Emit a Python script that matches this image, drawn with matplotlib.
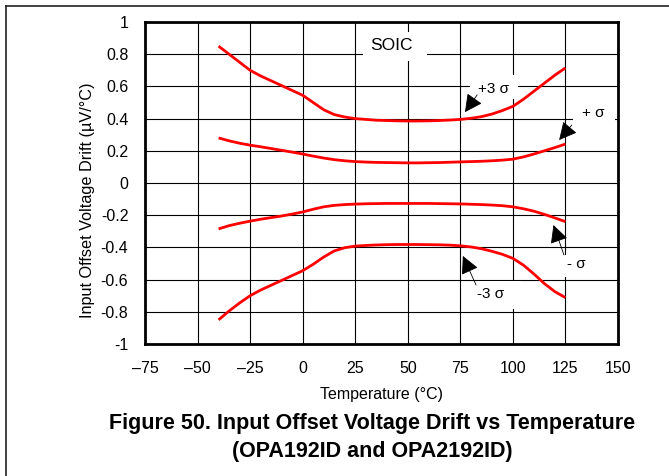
import matplotlib
matplotlib.use("Agg")
import matplotlib.pyplot as plt
from matplotlib.patches import Rectangle
from matplotlib.lines import Line2D

plt.rcParams['font.family'] = ['Liberation Sans', 'DejaVu Sans']

# temperatures (deg C) the curves were read at
temp = [-40, -35, -30, -25, -20, -15, -10, -5, 0, 5, 10, 15, 20, 25, 30, 35, 40, 45,
        50, 55, 60, 65, 70, 75, 80, 85, 90, 95, 100, 105, 110, 115, 120, 125]

plus3 = [0.85, 0.80, 0.75, 0.70, 0.665, 0.635, 0.605, 0.575, 0.545, 0.50, 0.455, 0.425,
         0.41, 0.40, 0.395, 0.39, 0.388, 0.386, 0.385, 0.385, 0.386, 0.388, 0.391, 0.395,
         0.402, 0.412, 0.428, 0.45, 0.476, 0.52, 0.57, 0.62, 0.67, 0.715]
plus1 = [0.28, 0.262, 0.247, 0.235, 0.225, 0.214, 0.203, 0.192, 0.18, 0.167, 0.155, 0.145,
         0.138, 0.133, 0.13, 0.128, 0.127, 0.126, 0.125, 0.125, 0.126, 0.127, 0.129, 0.131,
         0.133, 0.135, 0.138, 0.142, 0.148, 0.162, 0.18, 0.2, 0.22, 0.242]
minus1 = [-0.285, -0.265, -0.25, -0.237, -0.225, -0.215, -0.205, -0.193, -0.18, -0.163, -0.148,
          -0.139, -0.134, -0.131, -0.129, -0.128, -0.127, -0.127, -0.127, -0.127, -0.127,
          -0.128, -0.129, -0.13, -0.132, -0.134, -0.137, -0.141, -0.148, -0.16, -0.175,
          -0.195, -0.217, -0.24]
minus3 = [-0.85, -0.795, -0.745, -0.70, -0.665, -0.635, -0.605, -0.575, -0.545, -0.505, -0.46,
          -0.422, -0.402, -0.392, -0.388, -0.385, -0.383, -0.382, -0.382, -0.382, -0.383,
          -0.384, -0.386, -0.39, -0.397, -0.408, -0.424, -0.443, -0.468, -0.51, -0.565,
          -0.625, -0.675, -0.712]

xticks = [-75, -50, -25, 0, 25, 50, 75, 100, 125, 150]
xticklabels = ['\u201375', '\u201350', '\u201325', '0', '25', '50', '75', '100', '125', '150']
yticks = [1, 0.8, 0.6, 0.4, 0.2, 0, -0.2, -0.4, -0.6, -0.8, -1]
yticklabels = ['1', '0.8', '0.6', '0.4', '0.2', '0', '-0.2', '-0.4', '-0.6', '-0.8', '-1']

# curve labels: text, text position, arrow tail, arrow tip
labels = [('+3 \u03c3', (91, 0.585), (83, 0.547), (77.2, 0.44)),
          ('+ \u03c3', (138, 0.433), (128, 0.36), (122, 0.267)),
          ('- \u03c3', (130, -0.503), (124.3, -0.447), (119.3, -0.261)),
          ('-3 \u03c3', (89.5, -0.689), (82.5, -0.634), (76.2, -0.453))]
# white boxes that hide the grid behind the labels (x0, y0, x1, y1)
boxes = [(28.5, 0.76, 59, 0.938), (79.6, 0.52, 102.5, 0.67), (128.4, 0.33, 148.6, 0.5),
         (121, -0.585, 140, -0.45), (84, -0.78, 104, -0.61)]

fig = plt.figure(figsize=(6.69, 4.76), dpi=100)
ax = fig.add_axes([145 / 669, 1 - 344 / 476, 473 / 669, 322 / 476])

for s in [plus3, plus1, minus1, minus3]:
    ax.plot(temp, s, color='red', lw=2, zorder=3, solid_capstyle='butt')

for (x0, y0, x1, y1) in boxes:
    ax.add_patch(Rectangle((x0, y0), x1 - x0, y1 - y0, facecolor='white', edgecolor='none', zorder=1))

ax.text(42.4, 0.851, 'SOIC', fontsize=12.5, ha='center', va='center', zorder=4)
for txt, pos, tail, tip in labels:
    ax.text(pos[0], pos[1], txt, fontsize=11, ha='center', va='center', zorder=4)
    ax.annotate('', xy=tip, xytext=tail, zorder=4,
                arrowprops=dict(arrowstyle='-|>,head_length=0.55,head_width=0.28', color='black',
                                lw=0.6, mutation_scale=20, shrinkA=0, shrinkB=0))

ax.set_xlim(-75, 150)
ax.set_ylim(-1, 1)
ax.set_xticks(xticks)
ax.set_xticklabels(xticklabels)
ax.set_yticks(yticks)
ax.set_yticklabels(yticklabels)
ax.tick_params(length=0, labelsize=11.5)
ax.tick_params(axis='y', pad=12)
ax.tick_params(axis='x', pad=12)
ax.set_axisbelow(True)
ax.grid(True, color='black', lw=0.8)
for sp in ax.spines.values():
    sp.set_linewidth(2)

ax.set_xlabel('Temperature (\u00b0C)', fontsize=11.5, labelpad=8)
ax.set_ylabel('Input Offset Voltage Drift (\u00b5V/\u00b0C)', fontsize=11.7, labelpad=4, y=0.447)

fig.text(372 / 669, 1 - 424 / 476, 'Figure 50. Input Offset Voltage Drift vs Temperature',
         fontsize=15.5, fontweight='bold', ha='center', va='center')
fig.text(372 / 669, 1 - 452 / 476, '(OPA192ID and OPA2192ID)',
         fontsize=15.5, fontweight='bold', ha='center', va='center')

# page frame (only top and left edges show)
fig.add_artist(Line2D([6 / 669, 1], [1 - 6 / 476, 1 - 6 / 476], color='#222222', lw=1.2))
fig.add_artist(Line2D([6 / 669, 6 / 669], [0, 1 - 6 / 476], color='#222222', lw=1.2))

fig.savefig('out.png', dpi=100)
